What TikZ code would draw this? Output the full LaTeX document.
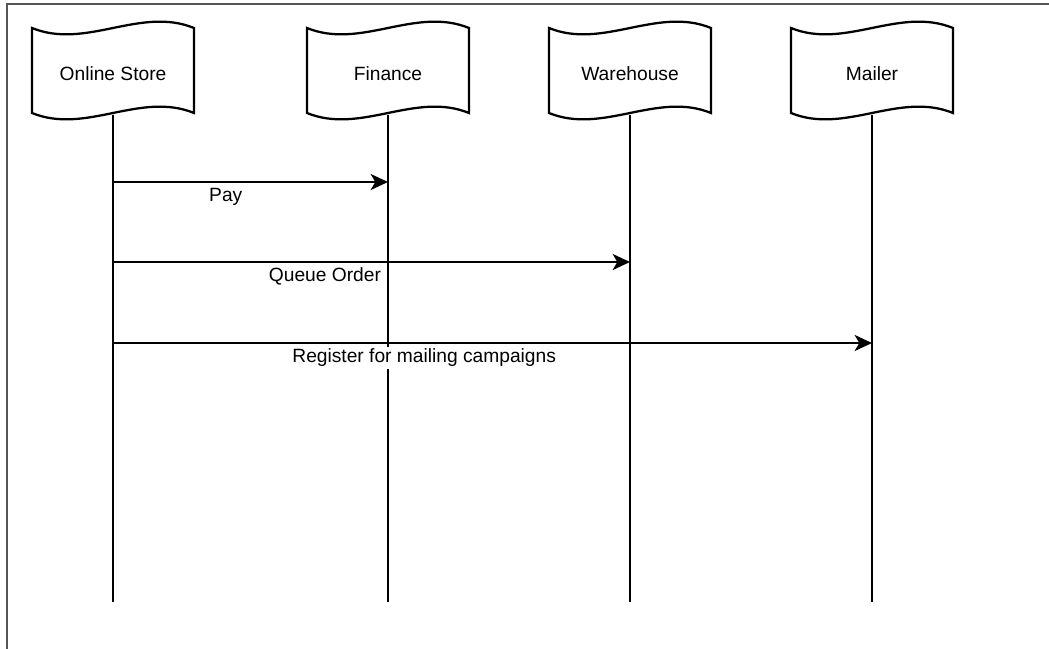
\documentclass[tikz,border=0pt]{standalone}
\usepackage{fontspec}
\setmainfont{Liberation Sans}
\usetikzlibrary{arrows.meta}
\tikzset{every picture/.style={line width=1.7pt}}
\tikzset{
  flag/.pic={
    \draw [fill=white] (-81,43) .. controls (-27,21) and (27,65) .. (81,43) -- (81,-42)
      .. controls (27,-20) and (-27,-64) .. (-81,-42) -- cycle;
    \node [font=\fontsize{14.4}{17}\selectfont] (-name) at (0,-3) {#1};
    \coordinate (-foot) at (0,-44);
  },
  msg/.style={-{Stealth[length=13pt,width=12pt,inset=3.5pt]}},
  msglabel/.style={pos=0.41, yshift=-11pt, fill=white, inner sep=1.5pt, font=\fontsize{14.4}{17}\selectfont}
}

\begin{document}
\begin{tikzpicture}[x=0.75pt,y=0.75pt,yscale=-1,xscale=1]
    \useasboundingbox (0,0) rectangle (1049,649);
    \draw [color={rgb, 255:red, 85; green, 85; blue, 85 }] (7,649) -- (7,4) -- (1049,4);
    \pic (store) at (113,71) {flag=Online Store};
    \pic (finance) at (388,71) {flag=Finance};
    \pic (warehouse) at (630,71) {flag=Warehouse};
    \pic (mailer) at (872,71) {flag=Mailer};
    \coordinate (storeEnd) at (113,602);
    \coordinate (financeEnd) at (388,602);
    \coordinate (warehouseEnd) at (630,602);
    \coordinate (mailerEnd) at (872,602);
    \draw (store-foot) -- (storeEnd);
    \draw (finance-foot) -- (financeEnd);
    \draw (warehouse-foot) -- (warehouseEnd);
    \draw (mailer-foot) -- (mailerEnd);
    \coordinate (payRow) at (0,182);
    \coordinate (queueRow) at (0,262);
    \coordinate (registerRow) at (0,343);
    \draw [msg] (storeEnd |- payRow) -- (financeEnd |- payRow) node [msglabel] (payLabel) {Pay};
    \draw [msg] (storeEnd |- queueRow) -- (warehouseEnd |- queueRow) node [msglabel] (queueLabel) {Queue Order};
    \draw [msg] (storeEnd |- registerRow) -- (mailerEnd |- registerRow) node [msglabel] (registerLabel) {Register for mailing campaigns};
\end{tikzpicture}
\end{document}
